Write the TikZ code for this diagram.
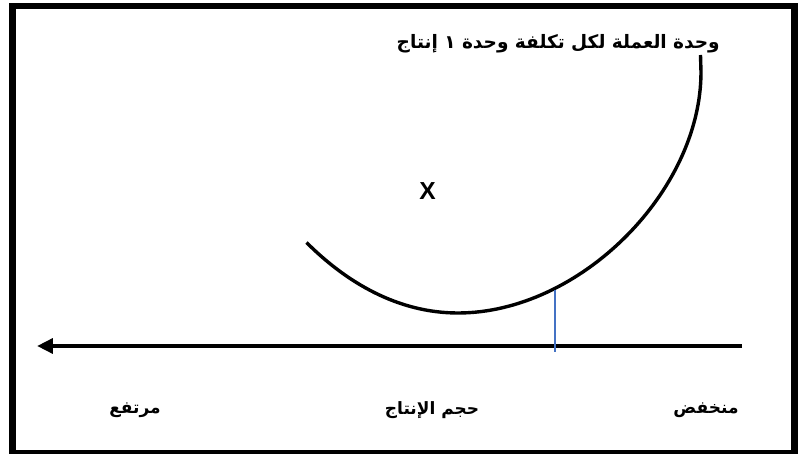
\documentclass[tikz,border=0pt]{standalone}
\usepackage{fontspec}
\setmainfont{Liberation Sans}[BoldFont={Liberation Sans Bold}]
\newfontfamily\arabicbold[Script=Arabic]{DejaVu Sans Bold}
\newfontfamily\latinbold{Liberation Sans Bold}
\TeXXeTstate=1
\usetikzlibrary{arrows.meta}
\definecolor{officeblue}{HTML}{4472C4}
\tikzset{
  frameline/.style={line width=5.5pt, draw=black},
  curveline/.style={line width=2.9pt, draw=black, line cap=butt},
  axisline/.style={line width=3.4pt, draw=black, -{Triangle[length=13.5pt,width=12.5pt]}},
  markline/.style={line width=1.1pt, draw=officeblue},
  arlabel/.style={font=\arabicbold\fontsize{14.5}{17}\selectfont, inner sep=0pt},
  titlelabel/.style={font=\arabicbold\fontsize{15.8}{18}\selectfont, inner sep=0pt},
  xlabel/.style={font=\latinbold\fontsize{21}{24}\selectfont, inner sep=0pt}
}
\begin{document}
\begin{tikzpicture}[x=0.03cm, y=-0.03cm]
\useasboundingbox (0,0) rectangle (798,454);
\begin{scope}
\clip (0,0) rectangle (798,454);
\draw[frameline] (12.5,6) rectangle (794.5,453.5);
\end{scope}
% curve
\coordinate (cStart) at (306.5,242.5);
\coordinate (cBot) at (458,313);
\coordinate (cRight) at (701,72);
\coordinate (cEnd) at (700.5,55);
\draw[curveline] (cStart) .. controls (346.5,282.5) and (398,313) .. (cBot)
  .. controls (579.5,313) and (701,191.5) .. (cRight) -- (cEnd);
% axis
\coordinate (axR) at (742,346);
\coordinate (axL) at (37,346);
\draw[axisline] (axR) -- (axL);
% marker
\coordinate (mTop) at (555,290.5);
\coordinate (mBot) at (555,352);
\draw[markline] (mTop) -- (mBot);
% labels
\node[titlelabel, anchor=east] (title) at (720,44) {\beginR وحدة العملة لكل تكلفة وحدة ١ إنتاج\endR};
\node[xlabel] (xmark) at (427.5,191) {X};
\node[arlabel] (high) at (135,410) {\beginR مرتفع\endR};
\node[arlabel] (vol) at (432,410) {\beginR حجم الإنتاج\endR};
\node[arlabel] (low) at (706,410) {\beginR منخفض\endR};
\end{tikzpicture}
\end{document}
